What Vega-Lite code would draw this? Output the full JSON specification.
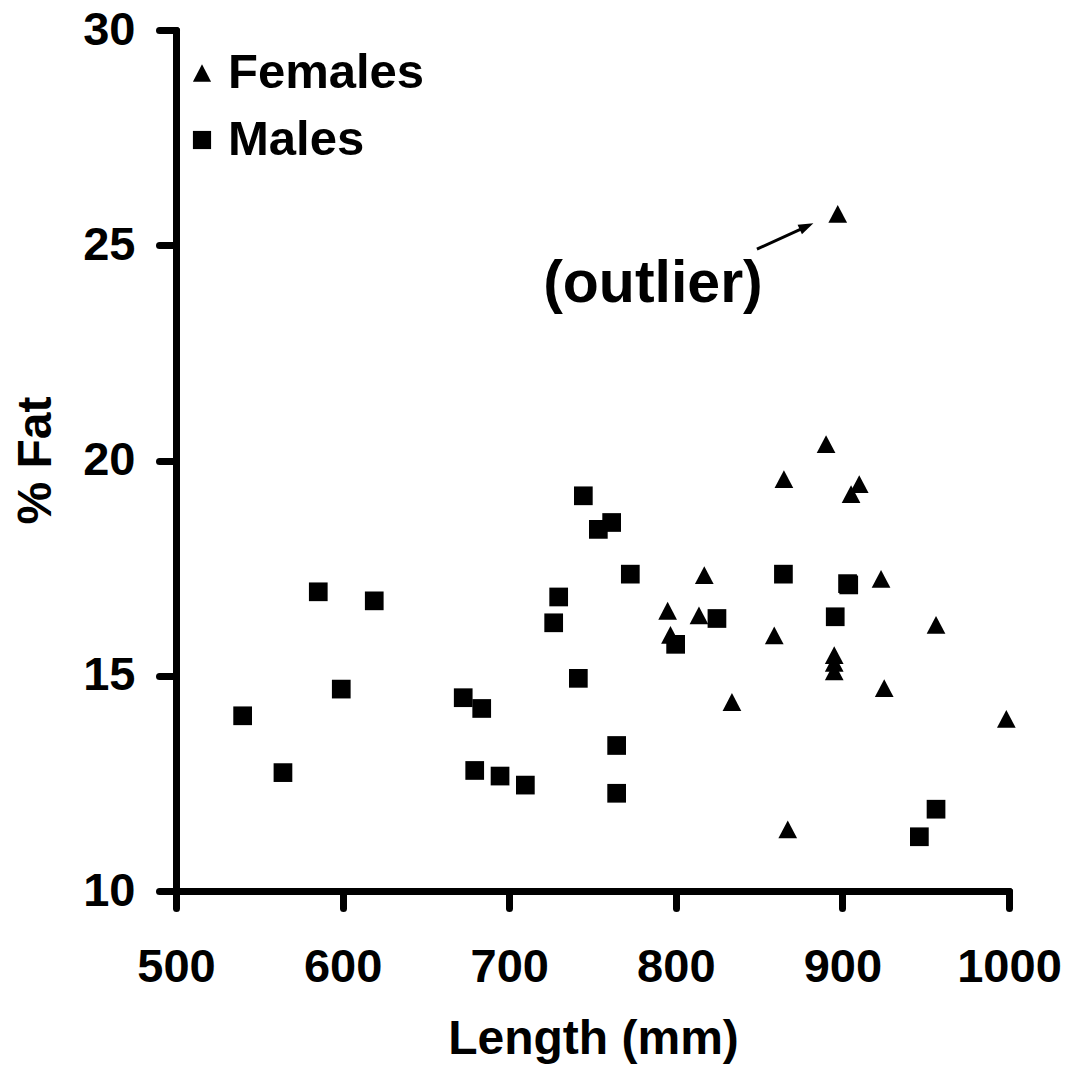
{
  "$schema": "https://vega.github.io/schema/vega-lite/v6.json",
  "width": 833,
  "height": 861,
  "autosize": {"type": "none"},
  "padding": {"left": 176, "top": 30, "right": 59, "bottom": 187},
  "background": "white",
  "config": {"view": {"stroke": null}, "font": "Liberation Sans"},
  "datasets": {
    "fish": [
      {"sex": "Males", "length": 540.0, "fat": 14.07},
      {"sex": "Males", "length": 564.2, "fat": 12.75},
      {"sex": "Males", "length": 585.4, "fat": 16.95},
      {"sex": "Males", "length": 599.2, "fat": 14.69},
      {"sex": "Males", "length": 619.0, "fat": 16.74},
      {"sex": "Males", "length": 672.4, "fat": 14.49},
      {"sex": "Males", "length": 679.3, "fat": 12.80},
      {"sex": "Males", "length": 683.5, "fat": 14.24},
      {"sex": "Males", "length": 694.5, "fat": 12.67},
      {"sex": "Males", "length": 709.7, "fat": 12.46},
      {"sex": "Males", "length": 726.7, "fat": 16.23},
      {"sex": "Males", "length": 729.7, "fat": 16.83},
      {"sex": "Males", "length": 741.5, "fat": 14.94},
      {"sex": "Males", "length": 744.5, "fat": 19.18},
      {"sex": "Males", "length": 753.5, "fat": 18.40},
      {"sex": "Males", "length": 761.5, "fat": 18.56},
      {"sex": "Males", "length": 764.5, "fat": 13.38},
      {"sex": "Males", "length": 764.5, "fat": 12.27},
      {"sex": "Males", "length": 772.7, "fat": 17.36},
      {"sex": "Males", "length": 799.9, "fat": 15.73},
      {"sex": "Males", "length": 824.7, "fat": 16.33},
      {"sex": "Males", "length": 864.6, "fat": 17.36},
      {"sex": "Males", "length": 895.7, "fat": 16.37},
      {"sex": "Males", "length": 903.1, "fat": 17.14},
      {"sex": "Males", "length": 903.8, "fat": 17.11},
      {"sex": "Males", "length": 946.2, "fat": 11.26},
      {"sex": "Males", "length": 956.2, "fat": 11.90},
      {"sex": "Females", "length": 795.1, "fat": 16.51},
      {"sex": "Females", "length": 796.8, "fat": 15.95},
      {"sex": "Females", "length": 813.9, "fat": 16.40},
      {"sex": "Females", "length": 817.1, "fat": 17.34},
      {"sex": "Females", "length": 833.7, "fat": 14.39},
      {"sex": "Females", "length": 859.1, "fat": 15.94},
      {"sex": "Females", "length": 864.9, "fat": 19.57},
      {"sex": "Females", "length": 867.2, "fat": 11.43},
      {"sex": "Females", "length": 890.2, "fat": 20.38},
      {"sex": "Females", "length": 895.1, "fat": 15.48},
      {"sex": "Females", "length": 895.1, "fat": 15.30},
      {"sex": "Females", "length": 895.1, "fat": 15.10},
      {"sex": "Females", "length": 897.2, "fat": 25.73},
      {"sex": "Females", "length": 905.2, "fat": 19.22},
      {"sex": "Females", "length": 910.1, "fat": 19.45},
      {"sex": "Females", "length": 923.2, "fat": 17.25},
      {"sex": "Females", "length": 925.1, "fat": 14.71},
      {"sex": "Females", "length": 956.2, "fat": 16.18},
      {"sex": "Females", "length": 998.4, "fat": 14.00}
    ],
    "label": [
      {"length": 786.3, "fat": 23.68, "text": "(outlier)"}
    ],
    "arrow": [
      {"length": 848.7, "fat": 24.91},
      {"length": 876.4, "fat": 25.40}
    ],
    "arrowhead": [
      {"length": 878.5, "fat": 25.44}
    ]
  },
  "layer": [
    {
      "data": {"name": "fish"},
      "mark": {"type": "point", "filled": true, "opacity": 1, "size": 350, "color": "black", "strokeWidth": 0},
      "encoding": {
        "x": {
          "field": "length", "type": "quantitative",
          "scale": {"domain": [500, 1000], "nice": false, "zero": false},
          "axis": {
            "values": [500, 600, 700, 800, 900, 1000],
            "format": "d",
            "title": "Length (mm)",
            "grid": false,
            "domainColor": "black", "domainWidth": 7, "domainCap": "round",
            "tickColor": "black", "tickWidth": 7, "tickSize": 17, "tickCap": "round",
            "labelFontSize": 47, "labelFontWeight": "bold", "labelColor": "black", "labelFont": "Liberation Sans",
            "labelPadding": 36, "labelFlush": false, "labelOverlap": false,
            "titleFontSize": 48, "titleFontWeight": "bold", "titleColor": "black", "titleFont": "Liberation Sans",
            "titleBaseline": "alphabetic", "titleAlign": "center", "titleX": 417, "titleY": 162
          }
        },
        "y": {
          "field": "fat", "type": "quantitative",
          "scale": {"domain": [10, 30], "nice": false, "zero": false},
          "axis": {
            "values": [10, 15, 20, 25, 30],
            "format": "d",
            "title": "% Fat",
            "grid": false,
            "domainColor": "black", "domainWidth": 7, "domainCap": "round",
            "tickColor": "black", "tickWidth": 7, "tickSize": 17, "tickCap": "round",
            "labelFontSize": 47, "labelFontWeight": "bold", "labelColor": "black", "labelFont": "Liberation Sans",
            "labelPadding": 24, "labelFlush": false, "labelOverlap": false,
            "titleFontSize": 48, "titleFontWeight": "bold", "titleColor": "black", "titleFont": "Liberation Sans",
            "titleBaseline": "alphabetic", "titleAlign": "center", "titleAngle": 270, "titleX": -126, "titleY": 430
          }
        },
        "shape": {
          "field": "sex", "type": "nominal",
          "scale": {"domain": ["Females", "Males"], "range": ["M0,-0.95L1,0.95L-1,0.95Z", "square"]},
          "legend": {
            "title": null,
            "orient": "none", "legendX": 1.5, "legendY": 18.5,
            "padding": 0,
            "labelFontSize": 49, "labelFontWeight": "bold", "labelColor": "black", "labelFont": "Liberation Sans",
            "labelOffset": 1.5, "labelLimit": 0,
            "symbolSize": 330, "symbolFillColor": "black", "symbolStrokeWidth": 0, "symbolOpacity": 1,
            "rowPadding": 17
          }
        }
      }
    },
    {
      "data": {"name": "label"},
      "mark": {"type": "text", "font": "Liberation Sans", "fontSize": 59, "fontWeight": "bold", "color": "black", "align": "center", "baseline": "alphabetic"},
      "encoding": {
        "x": {"field": "length", "type": "quantitative"},
        "y": {"field": "fat", "type": "quantitative"},
        "text": {"field": "text"}
      }
    },
    {
      "data": {"name": "arrow"},
      "mark": {"type": "line", "color": "black", "strokeWidth": 3},
      "encoding": {
        "x": {"field": "length", "type": "quantitative"},
        "y": {"field": "fat", "type": "quantitative"}
      }
    },
    {
      "data": {"name": "arrowhead"},
      "mark": {"type": "point", "shape": "M1,0L-1,-0.7L-1,0.7Z", "size": 225, "filled": true, "opacity": 1, "color": "black", "strokeWidth": 0, "angle": -24.5},
      "encoding": {
        "x": {"field": "length", "type": "quantitative"},
        "y": {"field": "fat", "type": "quantitative"}
      }
    }
  ]
}
